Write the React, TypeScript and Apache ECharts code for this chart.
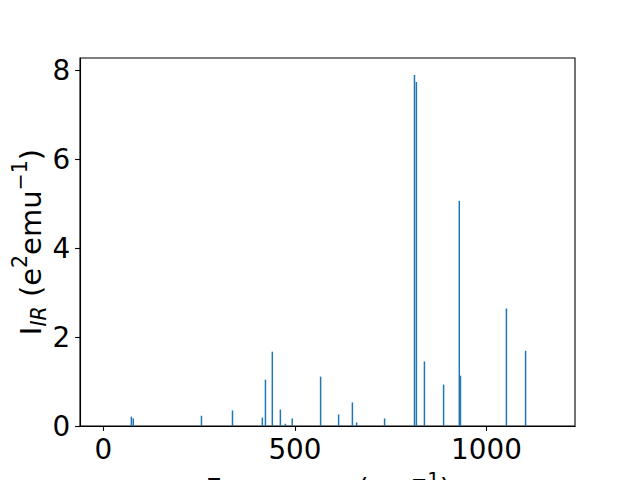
import React, { useEffect, useRef } from "react";
import * as echarts from "echarts";

const frequencies = [73, 78, 256, 337, 415, 423, 441, 462, 475, 493, 567, 614, 650, 661, 734, 812, 817, 838, 888, 929, 932, 1052, 1102];
const intensities = [0.21, 0.17, 0.23, 0.35, 0.19, 1.04, 1.67, 0.37, 0.05, 0.17, 1.11, 0.26, 0.53, 0.08, 0.17, 7.89, 7.73, 1.45, 0.93, 5.06, 1.13, 2.64, 1.69];
const xTicks = [0, 500, 1000];
const yTicks = [0, 2, 4, 6, 8];

const FONT = "DejaVu Sans";
const FS = 27.8;

export default function App() {
  const ref = useRef<HTMLDivElement>(null);
  useEffect(() => {
    if (!ref.current) return;
    const chart = echarts.init(ref.current, null, { renderer: "svg" });
    const data = frequencies.map((f, i) => [f, intensities[i]]);
    chart.setOption({
      animation: false,
      backgroundColor: "#fff",
      grid: {
        left: 80,
        right: 65,
        top: 58,
        bottom: 54,
        show: true,
        borderColor: "#000",
        borderWidth: 1.1,
        backgroundColor: "transparent",
      },
      xAxis: {
        type: "value",
        min: -61,
        max: 1231,
        axisLine: { show: true, onZero: false, lineStyle: { color: "#000", width: 1.1 } },
        axisTick: { show: true, customValues: xTicks, length: 4.9, lineStyle: { color: "#000", width: 1.1 } },
        axisLabel: { customValues: xTicks, margin: 9.8, fontSize: FS, fontFamily: FONT, color: "#000", formatter: (v: number) => String(v) },
        splitLine: { show: false },
      },
      yAxis: {
        type: "value",
        min: 0,
        max: 8.27,
        axisLine: { show: true, onZero: false, lineStyle: { color: "#000", width: 1.1 } },
        axisTick: { show: true, customValues: yTicks, length: 4.9, lineStyle: { color: "#000", width: 1.1 } },
        axisLabel: { customValues: yTicks, margin: 9.8, fontSize: FS, fontFamily: FONT, color: "#000", formatter: (v: number) => String(v) },
        splitLine: { show: false },
      },
      series: [
        {
          type: "bar",
          data,
          barWidth: 1.5,
          itemStyle: { color: "#1f77b4" },
        },
      ],
      graphic: [
        {
          type: "text",
          x: 27,
          y: 242,
          rotation: Math.PI / 2,
          style: {
            text: "{a|I}{sub|IR}{a| (e}{sup|2}{a|emu}{sup|−1}{a|)}",
            textAlign: "center",
            textVerticalAlign: "middle",
            fontFamily: FONT,
            fontSize: 29,
            fill: "#000",
            rich: {
              a: { fontSize: 29, fontFamily: FONT, fill: "#000", lineHeight: 36, verticalAlign: "bottom" },
              sub: { fontSize: 20.5, fontFamily: FONT, fontStyle: "italic", fill: "#000", lineHeight: 25, verticalAlign: "bottom", padding: [0, 0, -4, 0] },
              sup: { fontSize: 20.5, fontFamily: FONT, fill: "#000", lineHeight: 25, verticalAlign: "top" },
            },
          },
        },
        {
          type: "text",
          x: 328,
          y: 469,
          style: {
            text: "{a|Frequency (cm}{sup|−1}{a|)}",
            textAlign: "center",
            textVerticalAlign: "top",
            fontFamily: FONT,
            fontSize: FS,
            fill: "#000",
            rich: {
              a: { fontSize: FS, fontFamily: FONT, fill: "#000", lineHeight: 34, verticalAlign: "bottom" },
              sup: { fontSize: 19.5, fontFamily: FONT, fill: "#000", lineHeight: 24, verticalAlign: "top" },
            },
          },
        },
      ],
    });
    return () => chart.dispose();
  }, []);
  return <div ref={ref} style={{ width: 640, height: 480, position: "absolute", left: 0, top: 0 }} />;
}
